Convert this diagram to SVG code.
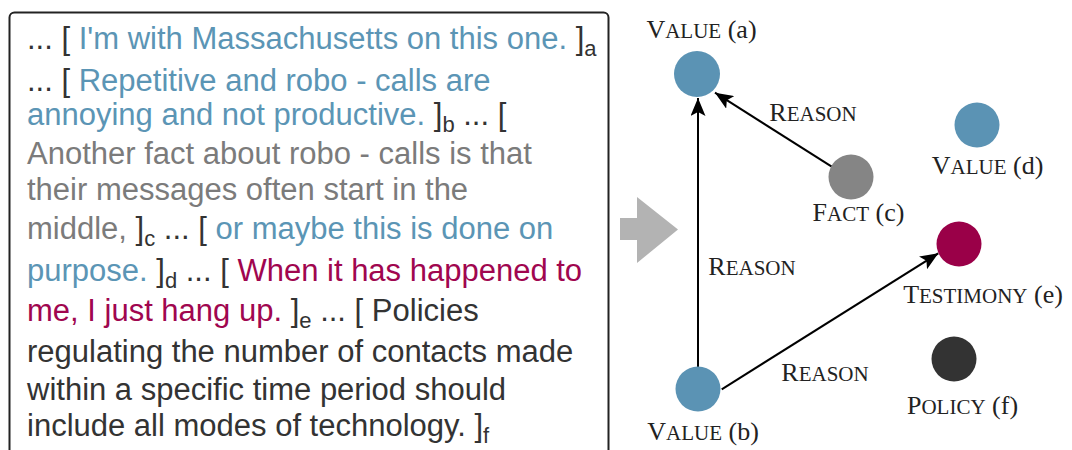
<svg xmlns="http://www.w3.org/2000/svg" width="1072" height="450" viewBox="0 0 1072 450">
<defs>
<style>
.t{font-family:"Liberation Sans",Arial,sans-serif;font-size:31px;fill:#333}
.b{fill:#5b95b5}
.g{fill:#7b7b7b}
.m{fill:#a0064f}
.s{font-size:22px}
.lbl{font-family:"Liberation Serif","Times New Roman",serif;font-size:26px;fill:#222;text-anchor:middle}
.sc{font-size:21px}
.edge{stroke:#000;stroke-width:2;fill:none;marker-end:url(#ah)}
</style>
<marker id="ah" markerUnits="userSpaceOnUse" markerWidth="19" markerHeight="15" refX="18" refY="7.5" orient="auto">
<path d="M0,0 L18,7.5 L0,15 L4,7.5 z" fill="#000"/>
</marker>
</defs>
<rect width="1072" height="450" fill="#fff"/>
<g id="textbox">
<rect x="9.5" y="12.5" width="599" height="460" rx="5" fill="#fff" stroke="#222" stroke-width="2"/>
<text class="t" x="27" y="49">... [ <tspan class="b">I'm with Massachusetts on this one.</tspan> ]<tspan class="s" dy="7">a</tspan></text>
<text class="t" x="27" y="91">... [ <tspan class="b">Repetitive and robo - calls are</tspan></text>
<text class="t" x="27" y="125"><tspan class="b">annoying and not productive.</tspan> ]<tspan class="s" dy="7">b</tspan><tspan dy="-7"> ... [</tspan></text>
<text class="t g" x="27" y="164">Another fact about robo - calls is that</text>
<text class="t g" x="27" y="200">their messages often start in the</text>
<text class="t" x="27" y="239"><tspan class="g">middle,</tspan> ]<tspan class="s" dy="7">c</tspan><tspan dy="-7"> ... [ </tspan><tspan class="b">or maybe this is done on</tspan></text>
<text class="t" x="27" y="281"><tspan class="b">purpose.</tspan> ]<tspan class="s" dy="7">d</tspan><tspan dy="-7"> ... [ </tspan><tspan class="m">When it has happened to</tspan></text>
<text class="t" x="27" y="321"><tspan class="m">me, I just hang up.</tspan> ]<tspan class="s" dy="7">e</tspan><tspan dy="-7"> ... [ Policies</tspan></text>
<text class="t" x="27" y="362">regulating the number of contacts made</text>
<text class="t" x="27" y="400">within a specific time period should</text>
<text class="t" x="27" y="436">include all modes of technology. ]<tspan class="s" dy="7">f</tspan></text>
</g>
<g id="big-arrow">
<polygon points="620,218 637,218 637,197 678,229.5 637,263 637,240 620,240" fill="#b3b3b3"/>
</g>
<g id="connectors">
<line class="edge" x1="831.7" y1="166.7" x2="715" y2="92.7"/>
<line class="edge" x1="698" y1="367" x2="698" y2="98"/>
<line class="edge" x1="721.7" y1="389.3" x2="938.3" y2="253.3"/>
<text class="lbl" x="813" y="121">R<tspan class="sc">EASON</tspan></text>
<text class="lbl" x="752" y="275">R<tspan class="sc">EASON</tspan></text>
<text class="lbl" x="825" y="381">R<tspan class="sc">EASON</tspan></text>
</g>
<g id="node-a">
<circle cx="697" cy="74" r="23" fill="#5b93b4"/>
<text class="lbl" x="701.5" y="38">V<tspan class="sc">ALUE</tspan> (a)</text>
</g>
<g id="node-b">
<circle cx="698" cy="389" r="22.5" fill="#5b93b4"/>
<text class="lbl" x="703" y="440">V<tspan class="sc">ALUE</tspan> (b)</text>
</g>
<g id="node-c">
<circle cx="851" cy="177" r="22.5" fill="#858585"/>
<text class="lbl" x="858.5" y="221">F<tspan class="sc">ACT</tspan> (c)</text>
</g>
<g id="node-d">
<circle cx="977" cy="125" r="22.5" fill="#5b93b4"/>
<text class="lbl" x="987.5" y="174">V<tspan class="sc">ALUE</tspan> (d)</text>
</g>
<g id="node-e">
<circle cx="959" cy="244" r="22.5" fill="#9a0048"/>
<text class="lbl" x="983" y="303">T<tspan class="sc">ESTIMONY</tspan> (e)</text>
</g>
<g id="node-f">
<circle cx="954" cy="359" r="22.5" fill="#333"/>
<text class="lbl" x="962.5" y="414">P<tspan class="sc">OLICY</tspan> (f)</text>
</g>
</svg>
